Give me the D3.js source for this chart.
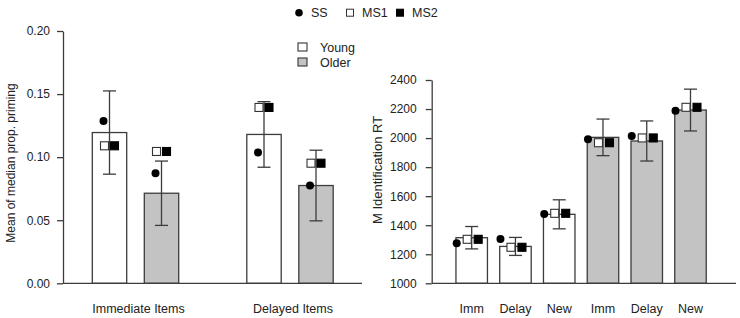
<!DOCTYPE html>
<html>
<head>
<meta charset="utf-8">
<script src="https://cdn.jsdelivr.net/npm/d3@7"></script>
<style>
  body { margin: 0; background: #fff; }
  svg { display: block; font-family: "Liberation Sans", Arial, sans-serif; }
</style>
</head>
<body>
<div id="chart"></div>
<script>
// ---- data ----
const ages = ["Young", "Older"];
const markers = ["SS", "MS1", "MS2"];

// left panel: proportion priming
const itemGroups = ["Immediate Items", "Delayed Items"];
const primeMean = { Young: [0.1195, 0.118], Older: [0.0714, 0.0775] };
const primeErr = { Young: [0.033, 0.026], Older: [0.0255, 0.028] };
const primeSS = { Young: [0.1286, 0.1037], Older: [0.0873, 0.0775] };
const primeMS1 = { Young: [0.109, 0.1394], Older: [0.1045, 0.0952] };
const primeMS2 = { Young: [0.109, 0.1394], Older: [0.1045, 0.0952] };
const primeTicks = [0, 0.05, 0.1, 0.15, 0.2];

// right panel: identification RT
const conds = ["Imm", "Delay", "New"];
const rtMean = { Young: [1314, 1254, 1475], Older: [2005, 1980, 2193] };
const rtErr = { Young: [77, 62, 100], Older: [126, 138, 144] };
const rtSS = { Young: [1275, 1305, 1477], Older: [1992, 2014, 2189] };
const rtMS1 = { Young: [1303, 1248, 1482], Older: [1968, 2001, 2212] };
const rtMS2 = { Young: [1303, 1248, 1482], Older: [1968, 2001, 2212] };
const rtTicks = [1000, 1200, 1400, 1600, 1800, 2000, 2200, 2400];

const width = 740, height = 318;
const ink = "#222", lineCol = "#3c3c3c", grey = "#c3c3c3";

const svg = d3.select("#chart").append("svg")
  .attr("width", width).attr("height", height);

function flatten(groups, mean, err, ss, ms1, ms2) {
  const rows = [];
  ages.forEach(age => groups.forEach((g, i) => {
    rows.push({ age, group: g, mean: mean[age][i], err: err[age][i],
      SS: ss[age][i], MS1: ms1[age][i], MS2: ms2[age][i] });
  }));
  return rows;
}

function drawPoints(g, rows, xPos, y, offs) {
  g.selectAll("circle.ss").data(rows).join("circle")
    .attr("class", "ss")
    .attr("cx", d => xPos(d) + offs.SS)
    .attr("cy", d => y(d.SS))
    .attr("r", 4)
    .attr("fill", "#000");
  ["MS1", "MS2"].forEach(k => {
    g.selectAll("rect." + k).data(rows).join("rect")
      .attr("class", k)
      .attr("x", d => xPos(d) + offs[k] - 4)
      .attr("y", d => y(d[k]) - 4)
      .attr("width", 8).attr("height", 8)
      .attr("fill", k === "MS1" ? "#fff" : "#000")
      .attr("stroke", k === "MS1" ? "#333" : "#000")
      .attr("stroke-width", 1.1);
  });
}

function drawErr(g, rows, xPos, y, cap) {
  const e = g.selectAll("g.err").data(rows).join("g").attr("class", "err")
    .attr("stroke", lineCol).attr("stroke-width", 1.3);
  e.append("line")
    .attr("x1", d => xPos(d)).attr("x2", d => xPos(d))
    .attr("y1", d => y(d.mean - d.err)).attr("y2", d => y(d.mean + d.err));
  [-1, 1].forEach(s => e.append("line")
    .attr("x1", d => xPos(d) - cap).attr("x2", d => xPos(d) + cap)
    .attr("y1", d => y(d.mean + s * d.err)).attr("y2", d => y(d.mean + s * d.err)));
}

// ---- left panel ----
{
  const rows = flatten(itemGroups, primeMean, primeErr, primeSS, primeMS1, primeMS2);
  const y = d3.scaleLinear().domain([0, 0.2]).range([283.3, 31]);
  const x0 = d3.scalePoint().domain(itemGroups).range([135.5, 290]);
  const x1 = d3.scalePoint().domain(ages).range([-26, 26]);
  const xPos = d => x0(d.group) + x1(d.age);
  const bw = 34.4;

  const yAxis = d3.axisLeft(y).tickValues(primeTicks)
    .tickFormat(d3.format(".2f")).tickSize(6).tickSizeOuter(0).tickPadding(7);
  const ga = svg.append("g").attr("transform", "translate(63,0)").call(yAxis);
  ga.selectAll("path, line").attr("stroke", lineCol).attr("stroke-width", 1.3);
  ga.selectAll("text").attr("fill", ink).style("font-size", "12px")
    .style("font-family", "Liberation Sans, Arial, sans-serif");

  const g = svg.append("g");
  g.selectAll("rect.bar").data(rows).join("rect").attr("class", "bar")
    .attr("x", d => xPos(d) - bw / 2)
    .attr("y", d => y(d.mean))
    .attr("width", bw)
    .attr("height", d => y(0) - y(d.mean))
    .attr("fill", d => d.age === "Young" ? "#fff" : grey)
    .attr("stroke", lineCol).attr("stroke-width", 1.3);

  drawErr(g, rows, xPos, y, 6.5);
  drawPoints(g, rows, xPos, y, { SS: -6, MS1: -5, MS2: 5 });

  svg.append("line").attr("x1", 63).attr("x2", 362)
    .attr("y1", y(0)).attr("y2", y(0))
    .attr("stroke", lineCol).attr("stroke-width", 1.3);

  svg.append("g").selectAll("text").data(itemGroups).join("text")
    .attr("x", d => x0(d) + 3).attr("y", 313)
    .attr("text-anchor", "middle").attr("fill", ink)
    .style("font-size", "12.5px").text(d => d);

  svg.append("text")
    .attr("transform", "translate(15,163) rotate(-90)")
    .attr("text-anchor", "middle").attr("fill", ink)
    .style("font-size", "12px").text("Mean of median prop. priming");

  // age legend
  const lg = svg.append("g");
  lg.selectAll("rect").data(ages).join("rect")
    .attr("x", 298).attr("y", (d, i) => 43 + i * 15)
    .attr("width", 9).attr("height", 8)
    .attr("fill", d => d === "Young" ? "#fff" : grey)
    .attr("stroke", "#333").attr("stroke-width", 1.1);
  lg.selectAll("text").data(ages).join("text")
    .attr("x", 320).attr("y", (d, i) => 52 + i * 15)
    .attr("fill", ink).style("font-size", "12.5px").text(d => d);
}

// ---- right panel ----
{
  const rows = flatten(conds, rtMean, rtErr, rtSS, rtMS1, rtMS2);
  const keys = rows.map(d => d.age + "-" + d.group);
  const y = d3.scaleLinear().domain([1000, 2400]).range([283.3, 80]);
  const x = d3.scalePoint().domain(keys).range([471.7, 690.5]);
  const xPos = d => x(d.age + "-" + d.group);
  const bw = 31.5;

  const yAxis = d3.axisLeft(y).tickValues(rtTicks).tickFormat(d3.format("d"))
    .tickSize(6).tickSizeOuter(0).tickPadding(9);
  const ga = svg.append("g").attr("transform", "translate(431.7,0)").call(yAxis);
  ga.selectAll("path, line").attr("stroke", lineCol).attr("stroke-width", 1.3);
  ga.selectAll("text").attr("fill", ink).style("font-size", "12px")
    .style("font-family", "Liberation Sans, Arial, sans-serif");

  const g = svg.append("g");
  g.selectAll("rect.bar").data(rows).join("rect").attr("class", "bar")
    .attr("x", d => xPos(d) - bw / 2)
    .attr("y", d => y(d.mean))
    .attr("width", bw)
    .attr("height", d => y(1000) - y(d.mean))
    .attr("fill", d => d.age === "Young" ? "#fff" : grey)
    .attr("stroke", lineCol).attr("stroke-width", 1.3);

  drawErr(g, rows, xPos, y, 6.5);
  drawPoints(g, rows, xPos, y, { SS: -15, MS1: -4.5, MS2: 6.5 });

  svg.append("line").attr("x1", 431.7).attr("x2", 736)
    .attr("y1", y(1000)).attr("y2", y(1000))
    .attr("stroke", lineCol).attr("stroke-width", 1.3);

  svg.append("g").selectAll("text").data(rows).join("text")
    .attr("x", d => xPos(d)).attr("y", 313)
    .attr("text-anchor", "middle").attr("fill", ink)
    .style("font-size", "12.5px").text(d => d.group);

  svg.append("text")
    .attr("transform", "translate(382,170) rotate(-90)")
    .attr("text-anchor", "middle").attr("fill", ink)
    .style("font-size", "13px").text("M Identification RT");
}

// ---- marker legend ----
{
  const lg = svg.append("g");
  const lx = [299, 350, 400];
  markers.forEach((m, i) => {
    if (m === "SS") {
      lg.append("circle").attr("cx", lx[i]).attr("cy", 12.7).attr("r", 3.8).attr("fill", "#000");
    } else {
      lg.append("rect").attr("x", lx[i] - 3.5).attr("y", 9.2)
        .attr("width", 7).attr("height", 7)
        .attr("fill", m === "MS1" ? "#fff" : "#000")
        .attr("stroke", m === "MS1" ? "#333" : "#000").attr("stroke-width", 1);
    }
    lg.append("text").attr("x", lx[i] + 12).attr("y", 17.3)
      .attr("fill", ink).style("font-size", "12.5px").text(m);
  });
}
</script>
</body>
</html>
